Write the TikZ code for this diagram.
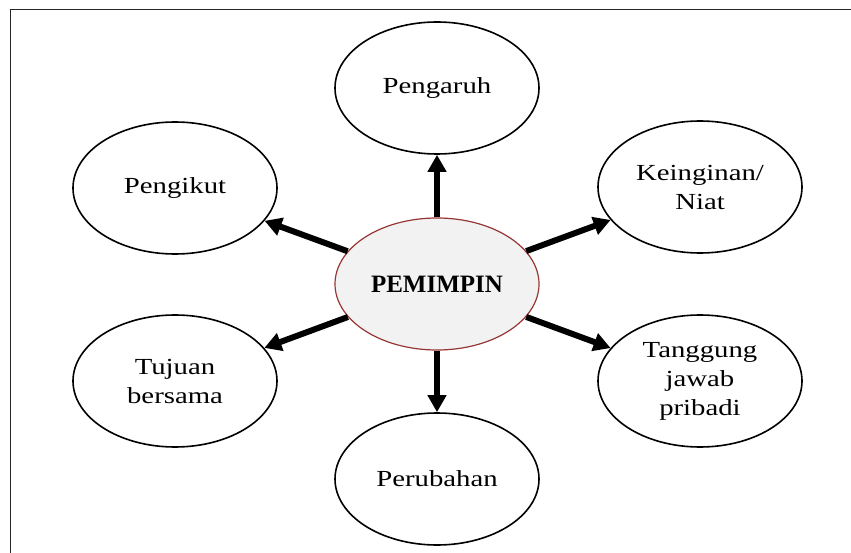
\documentclass[tikz,border=0pt]{standalone}
\usepackage{fontspec}
\setmainfont{Liberation Serif}[FakeStretch=1.25]
\newfontfamily\leadfont{Liberation Serif}
\usetikzlibrary{shapes.geometric,arrows.meta}
\definecolor{leadred}{RGB}{150,54,52}
\definecolor{leadfill}{RGB}{242,242,242}
\begin{document}
\begin{tikzpicture}[x=1pt,y=-1pt,
  bubble/.style={ellipse,draw=black,line width=1.6pt,minimum width=204pt,minimum height=132pt,inner sep=0pt,align=center,font=\fontsize{23}{29}\selectfont},
  lead/.style={bubble,draw=leadred,fill=leadfill,line width=1.2pt,font=\leadfont\fontsize{25}{29}\selectfont\bfseries},
  conn/.style={line width=6pt,-{Triangle[width=18pt,length=17pt]}}]
\useasboundingbox (0,0) rectangle (851,553);
\draw[line width=1.4pt,draw=black!85] (10.5,553) -- (10.5,9.5) -- (851,9.5);
\node[lead] (c) at (437,284) {PEMIMPIN};
\node[bubble] (top) at (437,88) {Pengaruh};
\node[bubble] (tl) at (175,188) {Pengikut};
\node[bubble] (tr) at (700,187) {Keinginan/\\Niat};
\node[bubble] (bl) at (175,381) {Tujuan\\bersama};
\node[bubble] (br) at (700,381) {Tanggung\\jawab\\pribadi};
\node[bubble] (bot) at (437,479) {Perubahan};
\foreach \t in {top,tl,tr,bl,br,bot} \draw[conn] (c) -- (\t);
\end{tikzpicture}
\end{document}
